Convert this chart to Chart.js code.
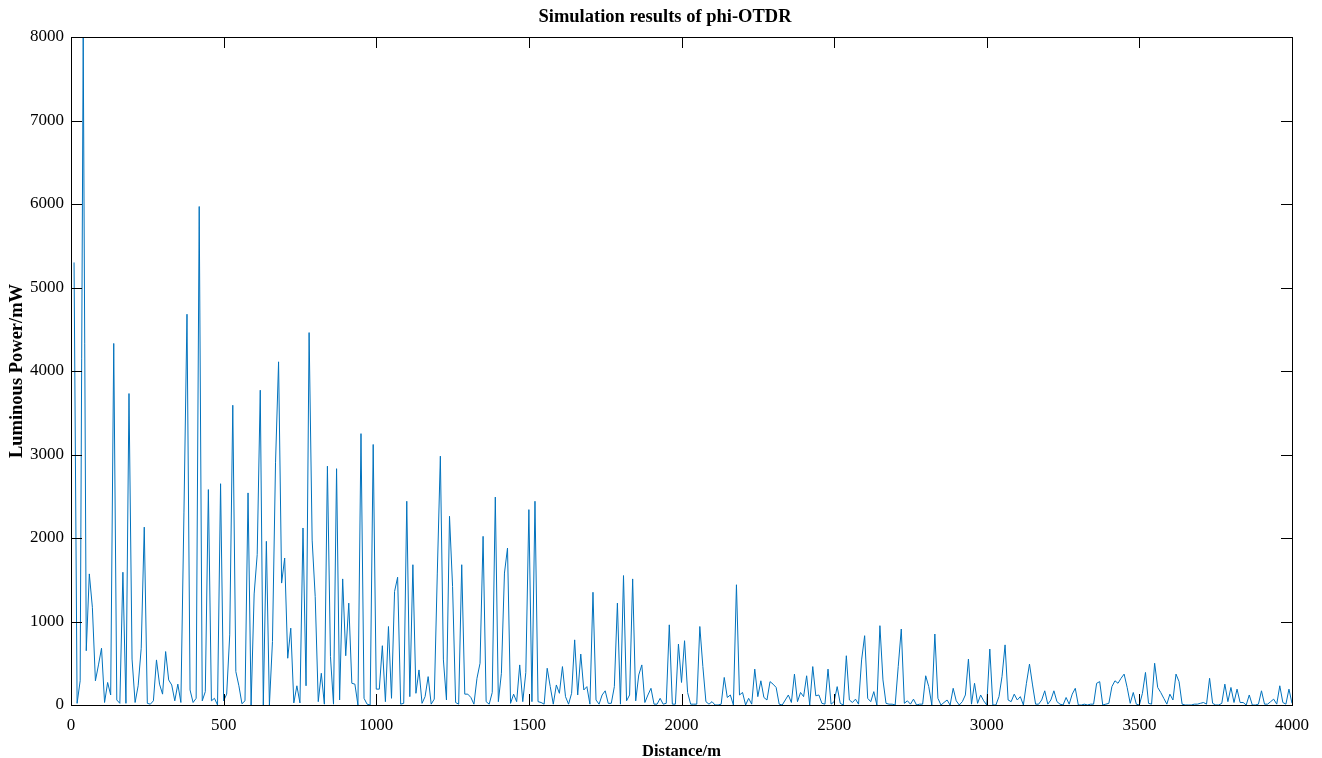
<!DOCTYPE html>
<html>
<head>
<meta charset="utf-8">
<title>Simulation results of phi-OTDR</title>
<script src="https://cdn.jsdelivr.net/npm/chart.js@4.4.1/dist/chart.umd.min.js"></script>
<style>
  html, body { margin: 0; padding: 0; background: #fff; }
  #wrap { width: 1322px; height: 758px; }
</style>
</head>
<body>
<div id="wrap"><canvas id="otdr"></canvas></div>
<script>
// sampling of the trace: one point every 10 m, starting at 10 m
const startDistance = 10;
const stepDistance = 10;

// luminous power (mW), 10 values per 100 m
const power = [
  5300, 20, 290, 8000, 650, 1570, 1170, 290, 480, 680,
  30, 270, 120, 4330, 60, 20, 1590, 20, 3730, 550,
  30, 230, 680, 2130, 20, 10, 50, 540, 250, 130,
  640, 300, 240, 50, 250, 30, 2300, 4680, 180, 30,
  80, 5970, 50, 160, 2580, 50, 80, 0, 2650, 50,
  130, 840, 3590, 400, 230, 15, 50, 2540, 0, 1330,
  1800, 3770, 0, 1960, 0, 760, 2900, 4110, 1460, 1760,
  560, 920, 25, 230, 25, 2120, 230, 4460, 1975, 1300,
  40, 380, 10, 2860, 580, 10, 2830, 60, 1510, 590,
  1220, 260, 250, 0, 3250, 80, 10, 0, 3120, 190,
  190, 710, 40, 940, 80, 1360, 1530, 10, 20, 2440,
  100, 1680, 140, 420, 20, 100, 340, 10, 70, 1580,
  2980, 540, 60, 2260, 1420, 30, 10, 1680, 130, 130,
  90, 10, 320, 500, 2020, 40, 10, 150, 2490, 40,
  380, 1580, 1880, 20, 130, 40, 480, 40, 390, 2340,
  40, 2440, 40, 30, 10, 440, 220, 10, 240, 140,
  460, 100, 10, 140, 780, 120, 610, 180, 220, 10,
  1350, 60, 10, 120, 170, 20, 20, 220, 1220, 10,
  1550, 50, 120, 1510, 50, 360, 480, 30, 120, 200,
  10, 10, 80, 10, 20, 960, 10, 10, 730, 270,
  770, 150, 10, 10, 10, 940, 460, 40, 10, 40,
  0, 0, 10, 330, 90, 120, 0, 1440, 120, 150,
  0, 80, 10, 430, 100, 290, 90, 60, 280, 250,
  210, 10, 0, 60, 120, 30, 370, 40, 150, 100,
  350, 0, 460, 110, 120, 20, 10, 430, 10, 40,
  220, 20, 0, 590, 60, 30, 70, 10, 540, 830,
  80, 40, 160, 0, 950, 300, 20, 10, 10, 0,
  460, 910, 20, 50, 10, 70, 0, 10, 10, 350,
  220, 0, 850, 80, 0, 30, 60, 0, 200, 50,
  0, 40, 120, 550, 10, 260, 20, 120, 50, 0,
  670, 0, 0, 100, 340, 720, 60, 40, 130, 60,
  100, 0, 260, 490, 240, 10, 10, 60, 170, 10,
  60, 170, 40, 10, 0, 90, 10, 130, 200, 0,
  0, 10, 0, 10, 10, 260, 280, 0, 10, 20,
  220, 290, 260, 320, 370, 210, 20, 150, 10, 0,
  140, 390, 20, 10, 500, 210, 150, 80, 10, 130,
  60, 370, 280, 10, 0, 0, 0, 10, 10, 20,
  30, 10, 320, 20, 0, 0, 20, 250, 40, 210,
  30, 190, 30, 30, 0, 120, 0, 0, 10, 170,
  10, 10, 40, 70, 10, 230, 30, 10, 190, 20
];

const distanceTicks = [0, 500, 1000, 1500, 2000, 2500, 3000, 3500, 4000];
const powerTicks = [0, 1000, 2000, 3000, 4000, 5000, 6000, 7000, 8000];
const chartTitle = 'Simulation results of phi-OTDR';

const points = power.map((p, i) => ({ x: startDistance + i * stepDistance, y: p }));

// matlab style box with inward ticks on all four sides, plus the title
const tickLen = 11;
const boxTicks = {
  id: 'boxTicks',
  afterDatasetsDraw(chart) {
    const { ctx, chartArea: a, scales: { x, y } } = chart;
    ctx.save();
    ctx.strokeStyle = '#000';
    ctx.lineWidth = 1;
    ctx.beginPath();
    x.ticks.forEach(t => {
      const px = Math.round(x.getPixelForValue(t.value)) + 0.5;
      ctx.moveTo(px, a.bottom);
      ctx.lineTo(px, a.bottom - tickLen);
      ctx.moveTo(px, a.top);
      ctx.lineTo(px, a.top + tickLen);
    });
    y.ticks.forEach(t => {
      const py = Math.round(y.getPixelForValue(t.value)) + 0.5;
      ctx.moveTo(a.left, py);
      ctx.lineTo(a.left + tickLen, py);
      ctx.moveTo(a.right, py);
      ctx.lineTo(a.right - tickLen, py);
    });
    ctx.stroke();
    ctx.strokeRect(Math.round(a.left) + 0.5, Math.round(a.top) + 0.5,
                   Math.round(a.width), Math.round(a.height));

    ctx.fillStyle = '#000';
    ctx.font = "bold 18.5px 'Liberation Serif', 'Times New Roman', serif";
    ctx.textAlign = 'center';
    ctx.textBaseline = 'middle';
    ctx.fillText(chartTitle, 665, 17);
    ctx.restore();
  }
};

Chart.defaults.font.family = "'Liberation Serif', 'Times New Roman', serif";
Chart.defaults.color = '#000';

new Chart(document.getElementById('otdr'), {
  type: 'line',
  data: {
    datasets: [{
      data: points,
      borderColor: '#0072BD',
      borderWidth: 1,
      pointRadius: 0,
      tension: 0,
      fill: false
    }]
  },
  options: {
    responsive: true,
    maintainAspectRatio: false,
    animation: false,
    events: [],
    layout: { padding: { left: 0, right: 30, top: 37, bottom: 0 } },
    scales: {
      x: {
        type: 'linear',
        min: 0,
        max: 4000,
        afterBuildTicks: s => { s.ticks = distanceTicks.map(v => ({ value: v })); },
        afterFit: s => { s.height = 53; },
        ticks: { font: { size: 17 }, padding: 10, maxRotation: 0, callback: v => String(v) },
        grid: { display: false, drawTicks: false, tickLength: 0 },
        border: { display: false },
        title: {
          display: true,
          text: 'Distance/m',
          font: { size: 16.5, weight: 'bold', lineHeight: 1 },
          padding: { top: 0, bottom: -2 }
        }
      },
      y: {
        min: 0,
        max: 8000,
        afterBuildTicks: s => { s.ticks = powerTicks.map(v => ({ value: v })); },
        afterFit: s => { s.width = 71; },
        ticks: { font: { size: 17 }, padding: 7, callback: v => String(v) },
        grid: { display: false, drawTicks: false, tickLength: 0 },
        border: { display: false },
        title: {
          display: true,
          text: 'Luminous Power/mW',
          font: { size: 18.5, weight: 'bold', lineHeight: 1.2 },
          padding: { top: 6, bottom: 0 }
        }
      }
    },
    plugins: {
      legend: { display: false },
      tooltip: { enabled: false },
      title: { display: false }
    }
  },
  plugins: [boxTicks]
});
</script>
</body>
</html>
